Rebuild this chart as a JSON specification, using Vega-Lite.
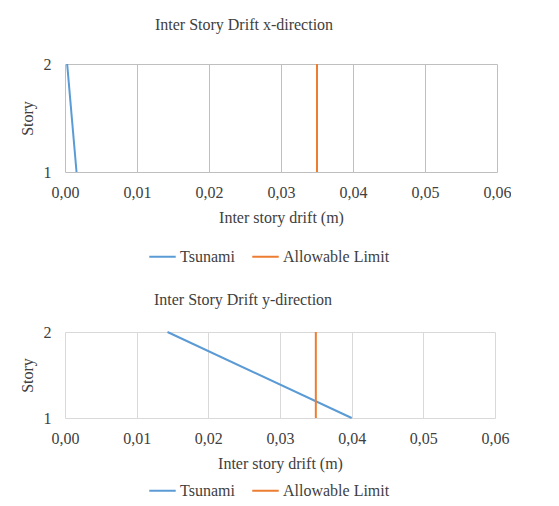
{
  "$schema": "https://vega.github.io/schema/vega-lite/v6.json",
  "padding": {"left": 19, "top": 17, "right": 0, "bottom": 0},
  "background": "white",
  "config": {
    "font": "Liberation Serif",
    "view": {"stroke": null},
    "axis": {
      "labelFont": "Liberation Serif",
      "titleFont": "Liberation Serif",
      "labelFontSize": 16,
      "titleFontSize": 16,
      "titleFontWeight": "normal",
      "labelColor": "#404040",
      "titleColor": "#404040",
      "domain": false,
      "ticks": false,
      "gridWidth": 1
    },
    "title": {"font": "Liberation Serif", "fontSize": 16, "fontWeight": "normal", "color": "#404040", "anchor": "middle"},
    "legend": {
      "labelFont": "Liberation Serif",
      "labelFontSize": 16,
      "labelColor": "#404040",
      "symbolType": "stroke",
      "symbolStrokeWidth": 2,
      "symbolSize": 700,
      "labelOffset": 3,
      "columnPadding": 13,
      "padding": 0,
      "direction": "horizontal",
      "title": null
    }
  },
  "spacing": 27,
  "resolve": {"scale": {"color": "independent"}, "legend": {"color": "independent"}},
  "vconcat": [
    {
      "width": 432,
      "height": 108,
      "title": {"text": "Inter Story Drift x-direction", "offset": 23, "dx": -37},
      "data": {"values": [
        {"series": "Tsunami", "drift": 0.0003, "story": 2},
        {"series": "Tsunami", "drift": 0.0016, "story": 1},
        {"series": "Allowable Limit", "drift": 0.035, "story": 1},
        {"series": "Allowable Limit", "drift": 0.035, "story": 2}
      ]},
      "mark": {"type": "line", "strokeWidth": 2},
      "encoding": {
        "x": {"field": "drift", "type": "quantitative", "scale": {"domain": [0, 0.06], "nice": false},
          "axis": {"title": "Inter story drift (m)", "values": [0, 0.01, 0.02, 0.03, 0.04, 0.05, 0.06],
            "labelExpr": "replace(format(datum.value, '.2f'), '.', ',')", "gridColor": "#bfbfbf",
            "labelFlush": false, "labelPadding": 12, "titlePadding": 9}},
        "y": {"field": "story", "type": "quantitative", "scale": {"domain": [1, 2], "nice": false, "zero": false},
          "axis": {"title": "Story", "values": [1, 2], "format": "d", "gridColor": "#bfbfbf", "labelPadding": 14, "titlePadding": 8}},
        "order": {"field": "story"},
        "color": {"field": "series", "type": "nominal",
          "scale": {"domain": ["Tsunami", "Allowable Limit"], "range": ["#5B9BD5", "#ED7D31"]},
          "legend": {"orient": "none", "legendX": 83, "legendY": 178}}
      }
    },
    {
      "width": 430,
      "height": 86,
      "title": {"text": "Inter Story Drift y-direction", "offset": 16, "dx": -37},
      "data": {"values": [
        {"series": "Tsunami", "drift": 0.0143, "story": 2},
        {"series": "Tsunami", "drift": 0.04, "story": 1},
        {"series": "Allowable Limit", "drift": 0.035, "story": 1},
        {"series": "Allowable Limit", "drift": 0.035, "story": 2}
      ]},
      "mark": {"type": "line", "strokeWidth": 2},
      "encoding": {
        "x": {"field": "drift", "type": "quantitative", "scale": {"domain": [0, 0.06], "nice": false},
          "axis": {"title": "Inter story drift (m)", "values": [0, 0.01, 0.02, 0.03, 0.04, 0.05, 0.06],
            "labelExpr": "replace(format(datum.value, '.2f'), '.', ',')", "gridColor": "#d9d9d9",
            "labelFlush": false, "labelPadding": 12, "titlePadding": 9}},
        "y": {"field": "story", "type": "quantitative", "scale": {"domain": [1, 2], "nice": false, "zero": false},
          "axis": {"title": "Story", "values": [1, 2], "format": "d", "gridColor": "#d9d9d9", "labelPadding": 14, "titlePadding": 8}},
        "order": {"field": "story"},
        "color": {"field": "series", "type": "nominal",
          "scale": {"domain": ["Tsunami", "Allowable Limit"], "range": ["#5B9BD5", "#ED7D31"]},
          "legend": {"orient": "none", "legendX": 83, "legendY": 144}}
      }
    }
  ]
}
